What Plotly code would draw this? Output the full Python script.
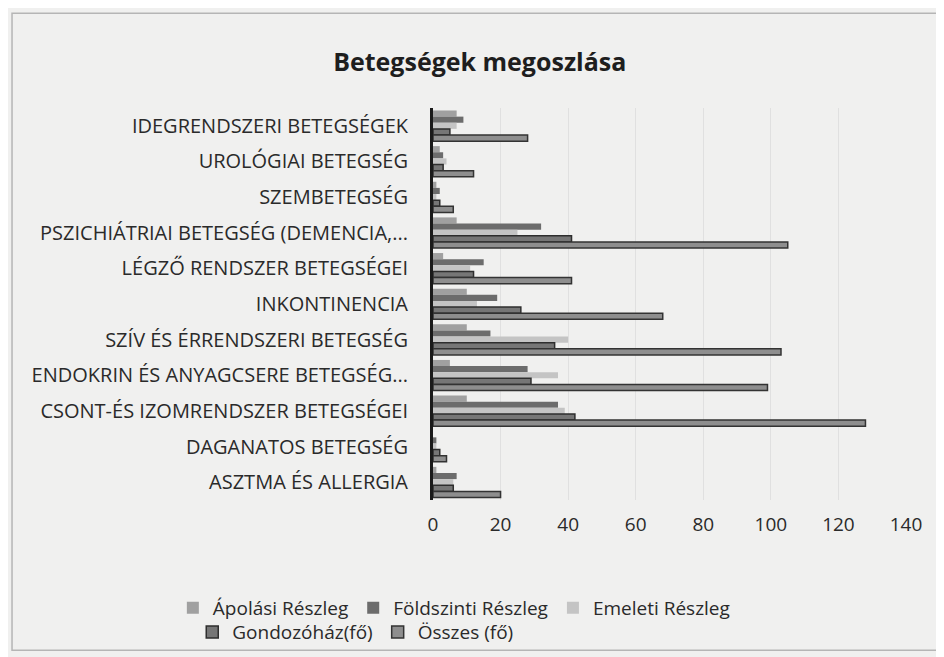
import plotly.graph_objects as go

categories = [
    "IDEGRENDSZERI BETEGSÉGEK",
    "UROLÓGIAI BETEGSÉG",
    "SZEMBETEGSÉG",
    "PSZICHIÁTRIAI BETEGSÉG (DEMENCIA,...",
    "LÉGZŐ RENDSZER BETEGSÉGEI",
    "INKONTINENCIA",
    "SZÍV ÉS ÉRRENDSZERI BETEGSÉG",
    "ENDOKRIN ÉS ANYAGCSERE BETEGSÉG...",
    "CSONT-ÉS IZOMRENDSZER BETEGSÉGEI",
    "DAGANATOS BETEGSÉG",
    "ASZTMA ÉS ALLERGIA",
]

apolasi     = [7, 2, 1, 7, 3, 10, 10, 5, 10, 0, 1]
foldszinti  = [9, 3, 2, 32, 15, 19, 17, 28, 37, 1, 7]
emeleti     = [7, 4, 1, 25, 11, 13, 40, 37, 39, 1, 6]
gondozohaz  = [5, 3, 2, 41, 12, 26, 36, 29, 42, 2, 6]
osszes      = [28, 12, 6, 105, 41, 68, 103, 99, 128, 4, 20]

series_names = ["Ápolási Részleg", "Földszinti Részleg", "Emeleti Részleg",
                "Gondozóház(fő)", "Összes (fő)"]
x_ticks = [0, 20, 40, 60, 80, 100, 120, 140]

FONT = "Open Sans"

fig = go.Figure()
styles = [
    dict(color="#a0a0a0", line=dict(width=0)),
    dict(color="#6c6c6c", line=dict(width=0)),
    dict(color="#c4c4c4", line=dict(width=0)),
    dict(color="#767676", line=dict(width=1.5, color="#2e2e2e")),
    dict(color="#8e8e8e", line=dict(width=1.5, color="#333333")),
]
data = [apolasi, foldszinti, emeleti, gondozohaz, osszes]
legends = ["legend", "legend", "legend", "legend2", "legend2"]
for name, vals, st, lg in zip(series_names, data, styles, legends):
    fig.add_trace(go.Bar(
        y=categories, x=vals, name=name, orientation="h",
        marker=st, legend=lg,
    ))

fig.update_layout(
    width=936, height=649,
    paper_bgcolor="#f0f0ef",
    plot_bgcolor="#f0f0ef",
    font=dict(family=FONT, color="#262626"),
    margin=dict(l=425, r=38, t=100, b=157, autoexpand=False),
    barmode="group",
    bargap=0.14,
    bargroupgap=0,
    title=dict(text="<b>Betegségek megoszlása</b>", x=0.504, xanchor="center",
               y=0.917, yanchor="middle",
               font=dict(family=FONT, size=25, color="#1e1e1e")),
    xaxis=dict(range=[0, 140], tickvals=x_ticks, showgrid=True,
               gridcolor="#e0e0e0", gridwidth=1, zeroline=False,
               showline=False, ticks="", ticklabelstandoff=11,
               tickfont=dict(family=FONT, size=19, color="#2a2a2a")),
    yaxis=dict(autorange="reversed", showline=True, linecolor="#1a1a1a",
               linewidth=3, ticks="", showgrid=False,
               tickfont=dict(family=FONT, size=20, color="#2a2a2a"),
               ticklabelstandoff=18),
    legend=dict(orientation="h", x=-0.55, xanchor="left", y=-0.275,
                yanchor="middle", font=dict(family=FONT, size=19, color="#2a2a2a"),
                bgcolor="rgba(0,0,0,0)", itemwidth=30, traceorder="normal"),
    legend2=dict(orientation="h", x=-0.509, xanchor="left", y=-0.337,
                 yanchor="middle", font=dict(family=FONT, size=19, color="#2a2a2a"),
                 bgcolor="rgba(0,0,0,0)", itemwidth=30, traceorder="normal"),
    showlegend=True,
)

fig.add_shape(type="rect", xref="paper", yref="paper",
              x0=-0.89, x1=1.078, y0=-0.383, y1=1.242,
              line=dict(color="#b5b5b5", width=1.5))

fig.write_html("out.html")
